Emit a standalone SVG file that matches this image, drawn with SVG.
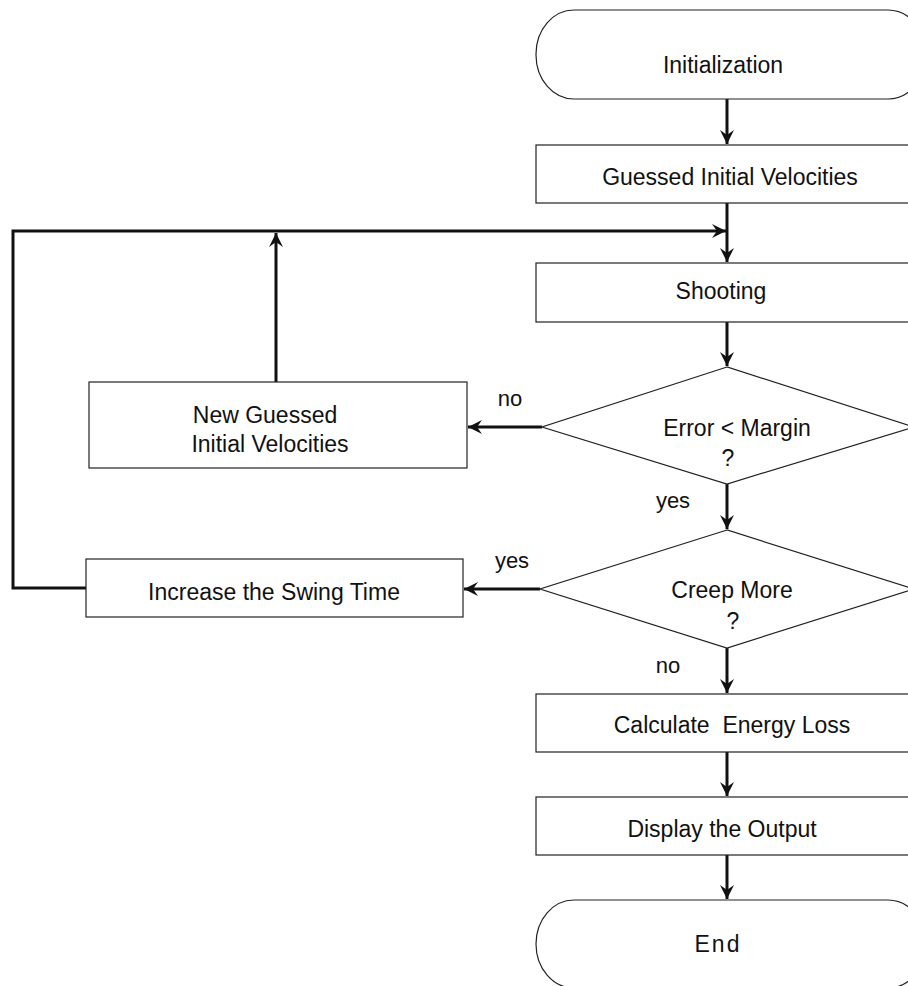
<svg xmlns="http://www.w3.org/2000/svg" width="908" height="986" viewBox="0 0 908 986">
<style>
.box{fill:#fff;stroke:#222;stroke-width:1.2}
.t{font-family:"Liberation Sans",Arial,Helvetica,sans-serif;font-size:23px;fill:#111;text-anchor:middle}
.lbl{font-family:"Liberation Sans",Arial,Helvetica,sans-serif;font-size:22px;fill:#111;text-anchor:middle}
.c{fill:none;stroke:#111;stroke-width:3}
</style>
<defs>
<marker id="ah" markerUnits="userSpaceOnUse" markerWidth="16" markerHeight="14" refX="14" refY="7" orient="auto">
<path d="M0,0 L14,7 L0,14 L5,7 z" fill="#111"/>
</marker>
</defs>
<rect width="908" height="986" fill="#fff"/>
<g id="connectors">
<line class="c" x1="727" y1="99" x2="727" y2="144" marker-end="url(#ah)"/>
<line class="c" x1="727" y1="203" x2="727" y2="262" marker-end="url(#ah)"/>
<path class="c" d="M86,588 H13 V231 H726" marker-end="url(#ah)"/>
<line class="c" x1="276" y1="382" x2="276" y2="233" marker-end="url(#ah)"/>
<line class="c" x1="727" y1="322" x2="727" y2="366" marker-end="url(#ah)"/>
<line class="c" x1="542" y1="427" x2="468" y2="427" marker-end="url(#ah)"/>
<line class="c" x1="727" y1="484" x2="727" y2="529" marker-end="url(#ah)"/>
<line class="c" x1="540" y1="589" x2="464" y2="589" marker-end="url(#ah)"/>
<line class="c" x1="727" y1="648" x2="727" y2="693" marker-end="url(#ah)"/>
<line class="c" x1="727" y1="752" x2="727" y2="796" marker-end="url(#ah)"/>
<line class="c" x1="727" y1="855" x2="727" y2="899" marker-end="url(#ah)"/>
<text class="lbl" x="510" y="406">no</text>
<text class="lbl" x="673" y="508">yes</text>
<text class="lbl" x="512" y="568">yes</text>
<text class="lbl" x="668" y="673">no</text>
</g>
<g id="init">
<rect class="box" x="536" y="10" width="390" height="89" rx="38" ry="44"/>
<text class="t" x="723" y="73" font-size="25">Initialization</text>
</g>
<g id="guess">
<rect class="box" x="536" y="145" width="380" height="58"/>
<text class="t" x="730" y="185">Guessed Initial Velocities</text>
</g>
<g id="shooting">
<rect class="box" x="536" y="263" width="380" height="59"/>
<text class="t" x="721" y="299" font-size="24">Shooting</text>
</g>
<g id="errdec">
<polygon class="box" points="727,367 542,427 727,484 914,427"/>
<text class="t" x="737" y="436" font-size="24">Error &lt; Margin</text>
<text class="t" x="728" y="466">?</text>
</g>
<g id="newguess">
<rect class="box" x="89" y="382" width="378" height="86"/>
<text class="t" x="265" y="423">New Guessed</text>
<text class="t" x="270" y="452">Initial Velocities</text>
</g>
<g id="creep">
<polygon class="box" points="727,530 540,589 727,648 914,589"/>
<text class="t" x="732" y="598" font-size="24">Creep More</text>
<text class="t" x="733" y="629">?</text>
</g>
<g id="increase">
<rect class="box" x="86" y="559" width="377" height="58"/>
<text class="t" x="274" y="600">Increase the Swing Time</text>
</g>
<g id="energy">
<rect class="box" x="536" y="694" width="380" height="58"/>
<text class="t" x="732" y="733" style="white-space:pre">Calculate  Energy Loss</text>
</g>
<g id="display">
<rect class="box" x="536" y="797" width="380" height="58"/>
<text class="t" x="722" y="837">Display the Output</text>
</g>
<g id="end">
<rect class="box" x="536" y="900" width="390" height="88" rx="38" ry="44"/>
<text class="t" x="718" y="952" font-size="18" letter-spacing="2">End</text>
</g>
</svg>
